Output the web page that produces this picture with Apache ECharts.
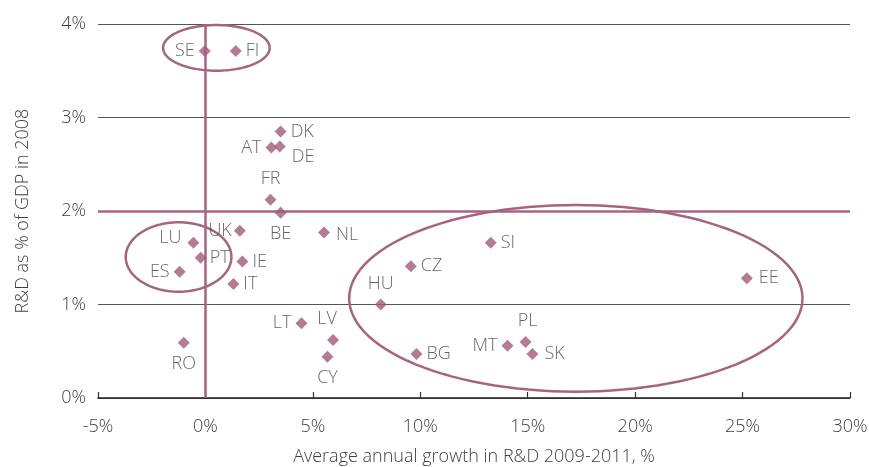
<!DOCTYPE html>
<html><head><meta charset="utf-8">
<script src="https://cdn.jsdelivr.net/npm/echarts@6/dist/echarts.min.js"></script>
<style>html,body{margin:0;padding:0;background:#fff}#c{width:869px;height:467px}</style>
</head><body><div id="c"></div>
<script>
// ---- data ----
const countries = ['SE','FI','DK','AT','DE','FR','BE','UK','NL','LU','PT','ES','IE','IT','HU','CZ','SI','EE','LT','LV','CY','BG','MT','PL','SK','RO'];
const growth    = [-0.03, 1.41, 3.5, 3.07, 3.46, 3.03, 3.5, 1.6, 5.52, -0.56, -0.22, -1.2, 1.72, 1.3, 8.16, 9.56, 13.28, 25.2, 4.47, 5.94, 5.68, 9.82, 14.06, 14.9, 15.22, -1.01];
const rdShare   = [3.71, 3.71, 2.85, 2.68, 2.69, 2.12, 1.98, 1.79, 1.77, 1.66, 1.50, 1.35, 1.46, 1.22, 1.00, 1.41, 1.66, 1.28, 0.80, 0.62, 0.44, 0.47, 0.56, 0.60, 0.47, 0.59];
const xTicks = [-5, 0, 5, 10, 15, 20, 25, 30];
const yTicks = [0, 1, 2, 3, 4];
// highlighted groups (ellipses): centre x, centre y, radius x, radius y (data units)
const groupsCx = [0.51, -1.25, 17.24];
const groupsCy = [3.745, 1.508, 1.066];
const groupsRx = [2.48, 2.46, 10.55];
const groupsRy = [0.244, 0.371, 0.998];
const threshX = 0, threshY = 2;

// ---- label placement (style) ----
const labelPlace = {
  SE:['left',[0,0]], FI:['right',[0,0]], DK:['right',[0,0]], AT:['left',[0,0]],
  DE:['right',[2,10]], FR:['top',[0,-2]], BE:['bottom',[0,2]], UK:['left',[2,0]],
  NL:['right',[2,2]], LU:['left',[-2,-5]], PT:['right',[-1,0]], ES:['left',[0,0]],
  IE:['right',[0,0]], IT:['right',[0,0]], HU:['top',[0,-2]], CZ:['right',[0,0]],
  SI:['right',[0,0]], EE:['right',[2,0]], LT:['left',[0,0]], LV:['top',[-6,-2]],
  CY:['bottom',[0,2]], BG:['right',[0,0]], MT:['left',[0,0]], PL:['top',[2,-2]],
  SK:['right',[2,0]], RO:['bottom',[0,2]]
};

const FONT = '"Open Sans", "Noto Sans", sans-serif';
const MAUVE = '#a5657f';
const TXT = '#3e3e3e';
const pts = countries.map((c,i)=>({
  name:c, value:[growth[i], rdShare[i]],
  label:{position:labelPlace[c][0], offset:labelPlace[c][1]}
}));
const ellipses = groupsCx.map((cx,i)=>[cx, groupsCy[i], groupsRx[i], groupsRy[i]]);

const chart = echarts.init(document.getElementById('c'));
chart.setOption({
  animation:false,
  backgroundColor:'#fff',
  grid:{left:98, right:19, top:24, bottom:69, containLabel:false, outerBoundsMode:'none'},
  xAxis:{
    type:'value', min:xTicks[0], max:xTicks[xTicks.length-1], interval:5,
    axisLine:{show:true, onZero:false, lineStyle:{color:'#222', width:1.5}},
    axisTick:{show:true, inside:true, length:6, lineStyle:{color:'#333', width:1.2}},
    splitLine:{show:false},
    axisLabel:{formatter:v=>v+'%', color:TXT, fontSize:18, fontFamily:FONT, fontWeight:300, margin:20},
    name:'Average annual growth in R&D 2009-2011, %', nameLocation:'middle', nameGap:50,
    nameTextStyle:{color:TXT, fontSize:18, fontFamily:FONT, fontWeight:300}
  },
  yAxis:{
    type:'value', min:yTicks[0], max:yTicks[yTicks.length-1], interval:1,
    axisLine:{show:false}, axisTick:{show:false},
    splitLine:{show:true, lineStyle:{color:'#555', width:1}},
    axisLabel:{formatter:v=>v+'%', color:TXT, fontSize:18, fontFamily:FONT, fontWeight:300, margin:12},
    name:'R&D as % of GDP in 2008', nameLocation:'middle', nameGap:66,
    nameTextStyle:{color:TXT, fontSize:18, fontFamily:FONT, fontWeight:300}
  },
  series:[
    {
      type:'scatter', data:pts, symbol:'diamond', symbolSize:12, z:5,
      itemStyle:{color:'#a05b7a'},
      label:{show:true, formatter:'{b}', color:TXT, fontSize:18, fontFamily:FONT, fontWeight:300, distance:4},
      markLine:{
        silent:true, symbol:'none', label:{show:false},
        lineStyle:{color:MAUVE, width:2.5, type:'solid'},
        data:[{yAxis:threshY},{xAxis:threshX}]
      }
    },
    {
      type:'custom', data:ellipses, silent:true, z:4, clip:false,
      encode:{x:0, y:1},
      renderItem:function(params, api){
        const cx=api.value(0), cy=api.value(1), rx=api.value(2), ry=api.value(3);
        const points=[];
        for(let k=0;k<=120;k++){
          const t=k/120*Math.PI*2;
          points.push(api.coord([cx+rx*Math.cos(t), cy+ry*Math.sin(t)]));
        }
        return {type:'polyline', shape:{points:points}, style:{fill:null, stroke:MAUVE, lineWidth:2.5}};
      }
    }
  ]
});
</script>
</body></html>
